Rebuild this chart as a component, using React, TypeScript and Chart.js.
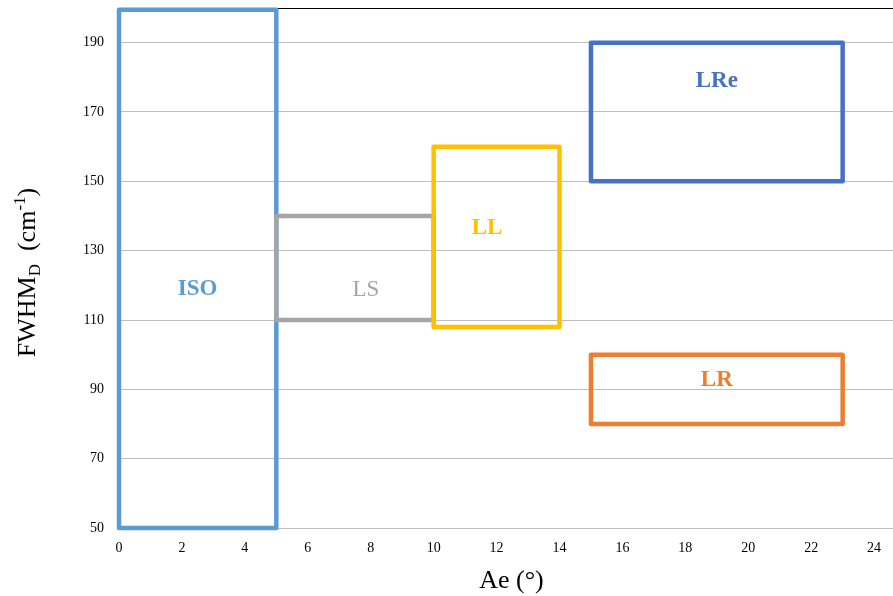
import React, { useEffect, useRef } from "react";
import { Chart, registerables } from "chart.js";

Chart.register(...registerables);

const xTicks = [0, 2, 4, 6, 8, 10, 12, 14, 16, 18, 20, 22, 24];
const yTicks = [50, 70, 90, 110, 130, 150, 170, 190];

const regionNames = ["ISO", "LS", "LL", "LRe", "LR"];
const regionX0 = [0, 5, 10, 15, 15];
const regionX1 = [5, 10, 14, 23, 23];
const regionY0 = [50, 110, 108, 150, 80];
const regionY1 = [199.5, 140, 160, 190, 100];
const labelX = [2.5, 7.85, 11.7, 19, 19];
const labelY = [118.8, 118.8, 136.6, 178.8, 92.7];
const regionColors = ["#5B9BD5", "#A5A5A5", "#FFC000", "#4472C4", "#ED7D31"];
const labelBold = [true, false, true, true, true];

const SERIF = '"Liberation Serif", "Times New Roman", serif';

export default function App() {
  const ref = useRef<HTMLCanvasElement | null>(null);

  useEffect(() => {
    const canvas = ref.current;
    if (!canvas) return;

    const datasets = regionNames.map((name, i) => ({
      label: name,
      data: [
        { x: regionX0[i], y: regionY0[i] },
        { x: regionX0[i], y: regionY1[i] },
        { x: regionX1[i], y: regionY1[i] },
        { x: regionX1[i], y: regionY0[i] },
        { x: regionX0[i], y: regionY0[i] },
      ],
      showLine: true,
      borderColor: regionColors[i],
      backgroundColor: regionColors[i],
      borderWidth: 4.5,
      borderJoinStyle: "round" as const,
      borderCapStyle: "round" as const,
      pointRadius: 0,
      pointHoverRadius: 0,
      tension: 0,
      fill: false,
      clip: false as any,
      order: regionNames.length - i,
    }));

    const overlay = {
      id: "overlay",
      beforeDatasetsDraw(chart: any) {
        const { ctx, chartArea } = chart;
        ctx.save();
        ctx.strokeStyle = "#000000";
        ctx.lineWidth = 1;
        ctx.beginPath();
        ctx.moveTo(chartArea.left, Math.round(chartArea.top) + 0.5);
        ctx.lineTo(chartArea.right, Math.round(chartArea.top) + 0.5);
        ctx.stroke();
        ctx.restore();
      },
      afterDatasetsDraw(chart: any) {
        const { ctx, scales } = chart;
        const xs = scales.x;
        const ys = scales.y;
        ctx.save();
        ctx.textAlign = "center";
        ctx.textBaseline = "middle";
        regionNames.forEach((name, i) => {
          ctx.font = `${labelBold[i] ? "bold " : ""}23px ${SERIF}`;
          ctx.fillStyle = regionColors[i];
          ctx.fillText(name, xs.getPixelForValue(labelX[i]), ys.getPixelForValue(labelY[i]));
        });

        // x axis title
        ctx.fillStyle = "#000000";
        ctx.font = `26px ${SERIF}`;
        ctx.textBaseline = "alphabetic";
        ctx.fillText("Ae (°)", 511.5, 588);

        // y axis title with subscript / superscript
        const big = `26px ${SERIF}`;
        const small = `17px ${SERIF}`;
        const parts = [
          { t: "FWHM", f: big, dy: 0 },
          { t: "D", f: small, dy: 5 },
          { t: "  (cm", f: big, dy: 0 },
          { t: "-1", f: small, dy: -10 },
          { t: ")", f: big, dy: 0 },
        ];
        let total = 0;
        parts.forEach((p) => {
          ctx.font = p.f;
          total += ctx.measureText(p.t).width;
        });
        ctx.translate(35, 272.5);
        ctx.rotate(-Math.PI / 2);
        ctx.textAlign = "left";
        let x = -total / 2;
        parts.forEach((p) => {
          ctx.font = p.f;
          ctx.fillText(p.t, x, p.dy);
          x += ctx.measureText(p.t).width;
        });
        ctx.restore();
      },
    };

    const chart = new Chart(canvas, {
      type: "scatter",
      data: { datasets: datasets as any },
      options: {
        animation: false,
        responsive: false,
        maintainAspectRatio: false,
        layout: { padding: { top: 8, right: 0, left: 0, bottom: 0 } },
        plugins: {
          legend: { display: false },
          tooltip: { enabled: false },
        },
        scales: {
          x: {
            type: "linear",
            min: 0,
            max: 24.6,
            afterBuildTicks: (scale: any) => {
              scale.ticks = xTicks.map((v) => ({ value: v }));
            },
            afterFit: (scale: any) => {
              scale.height = 68;
              scale.paddingLeft = 0;
              scale.paddingRight = 0;
            },
            grid: { display: false, drawTicks: false },
            border: { display: true, color: "#BFBFBF", width: 1 },
            ticks: {
              padding: 12,
              color: "#000000",
              font: { family: SERIF, size: 14 },
              maxRotation: 0,
            },
          },
          y: {
            type: "linear",
            min: 50,
            max: 200,
            afterBuildTicks: (scale: any) => {
              scale.ticks = yTicks.map((v) => ({ value: v }));
            },
            afterFit: (scale: any) => {
              scale.width = 119;
              scale.paddingTop = 0;
              scale.paddingBottom = 0;
            },
            grid: { color: "#BFBFBF", lineWidth: 1, drawTicks: false },
            border: { display: false },
            ticks: {
              padding: 15,
              color: "#000000",
              font: { family: SERIF, size: 14 },
            },
          },
        },
      } as any,
      plugins: [overlay],
    });

    return () => chart.destroy();
  }, []);

  return (
    <div style={{ position: "absolute", left: 0, top: 0, width: 893, height: 596, background: "#fff" }}>
      <canvas ref={ref} width={893} height={596} style={{ width: 893, height: 596, display: "block" }} />
    </div>
  );
}
